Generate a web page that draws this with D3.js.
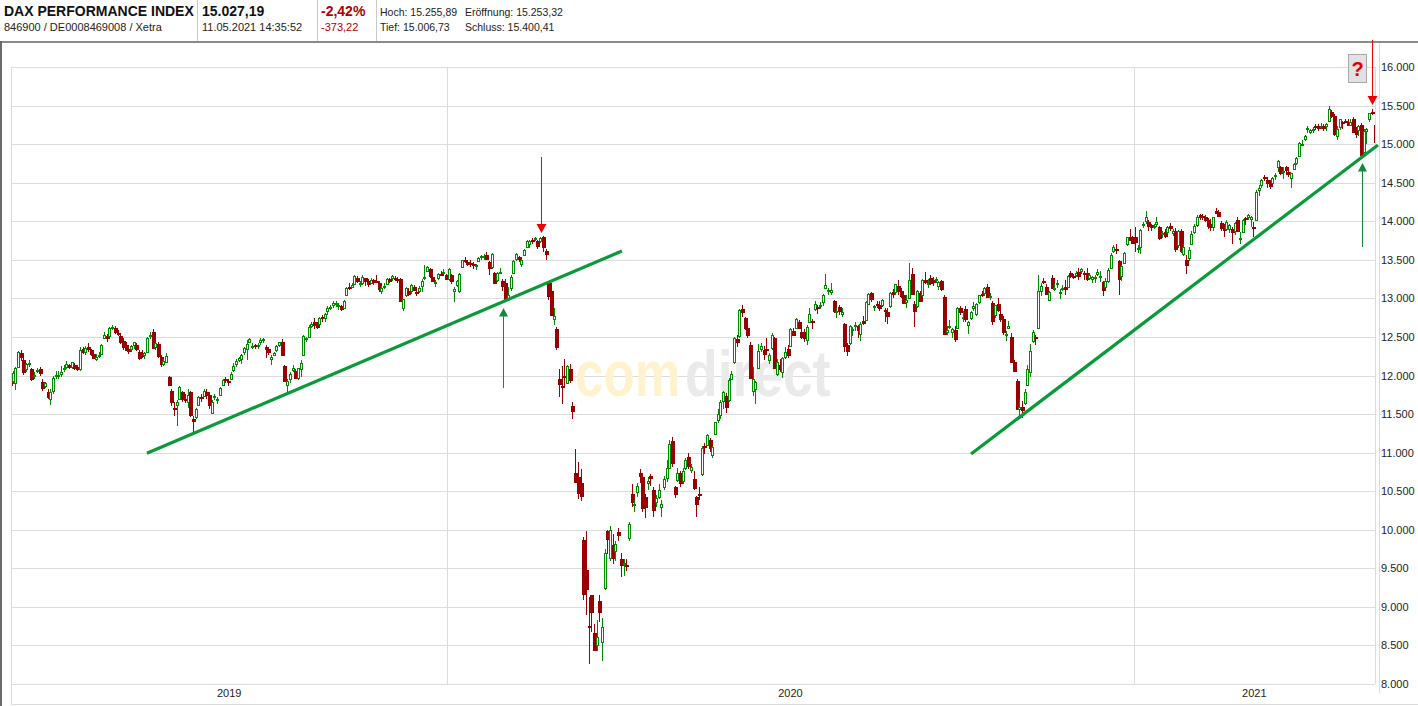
<!DOCTYPE html>
<html><head><meta charset="utf-8">
<script src="https://cdn.jsdelivr.net/npm/d3@7"></script>
<style>
html,body{margin:0;padding:0;background:#fff;}
svg{display:block;font-family:"Liberation Sans",Arial,sans-serif;}
</style></head><body>
<svg id="c" width="1418" height="706"></svg>
<script>
// Daily candles [open, high, low, close], 13.05.2019 - 11.05.2021
const ohlc2019 = [
[12000,12040,11830,11876],[11930,12060,11890,12029],[11900,12110,11810,12099],[12110,12320,12100,12310],[12290,12330,12190,12238],
[12200,12230,12010,12041],[12080,12160,12050,12143],[12150,12200,12110,12168],[12080,12100,11930,11952],[11990,12040,11960,12011],
[12060,12100,12030,12071],[12090,12110,12000,12027],[11920,11950,11800,11837],[11870,11920,11840,11902],[11790,11820,11700,11727],
[11700,11830,11620,11790],[11800,11990,11760,11971],[12000,12060,11950,12009],[12000,12060,11960,12010],[12020,12120,11980,12045],
[12080,12130,12050,12100],[12110,12190,12090,12155],[12130,12150,12080,12115],[12110,12180,12080,12169],[12140,12160,12070,12096],
[12110,12130,12060,12086],[12090,12370,12060,12332],[12340,12370,12280,12309],[12300,12380,12270,12355],[12370,12420,12310,12340],
[12330,12350,12250,12274],[12280,12320,12210,12228],[12220,12280,12190,12246],[12270,12300,12230,12271],[12280,12410,12260,12399],
[12490,12560,12470,12521],[12510,12540,12440,12487],[12510,12630,12500,12616],[12620,12650,12590,12629],[12620,12640,12540,12568],
[12550,12590,12510,12543],[12510,12530,12410,12437],[12450,12480,12330,12373],[12400,12430,12320,12332],[12340,12370,12280,12323],
[12340,12400,12310,12387],[12390,12440,12340,12430],[12400,12420,12320,12342],[12310,12330,12200,12227],[12270,12330,12230,12260],
[12260,12310,12220,12290],[12300,12500,12290,12490],[12520,12570,12470,12522],[12560,12600,12350,12362],[12370,12430,12330,12419],
[12410,12430,12230,12257],[12240,12260,12110,12147],[12150,12220,12120,12189],[12180,12290,12160,12253],[11980,12000,11860,11872],
[11800,11820,11610,11658],[11580,11650,11470,11567],[11620,11680,11350,11650],[11700,11870,11690,11845],[11780,11800,11660,11694],
[11700,11760,11640,11680],[11650,11820,11580,11750],[11790,11800,11460,11492],[11440,11470,11266,11412],[11460,11580,11440,11563],
[11620,11740,11610,11715],[11720,11760,11660,11712],[11740,11820,11720,11802],[11790,11830,11700,11747],[11750,11780,11560,11612],
[11520,11680,11500,11658],[11720,11760,11680,11730],[11680,11720,11630,11701],[11750,11850,11730,11838],[11880,11960,11870,11939],
[11960,11980,11900,11953],[11930,11950,11860,11910],[11960,12040,11950,12025],[12070,12160,12050,12127],[12150,12210,12110,12191],
[12200,12240,12170,12226],[12210,12280,12150,12268],[12300,12370,12260,12359],[12350,12460,12200,12410],[12440,12490,12420,12469],
[12370,12420,12350,12380],[12390,12410,12340,12389],[12390,12420,12340,12390],[12430,12490,12400,12457],[12460,12490,12420,12468],
[12370,12390,12230,12342],[12350,12370,12270,12307],[12220,12260,12130,12234],[12270,12310,12250,12288],[12330,12400,12310,12381],
[12400,12440,12370,12428],[12440,12470,12250,12263],[12120,12130,11920,11925],[11880,11950,11770,11925],[11950,12040,11900,12013],
[12070,12130,12050,12097],[12060,12080,11950,11970],[11970,12100,11940,12094],[12080,12200,11980,12164],[12260,12530,12250,12512],
[12470,12500,12430,12486],[12500,12660,12480,12630],[12640,12690,12620,12670],[12690,12740,12600,12654],[12650,12690,12600,12634],
[12670,12760,12650,12748],[12760,12790,12700,12754],[12740,12810,12700,12799],[12830,12900,12790,12872],[12870,12910,12850,12894],
[12920,12960,12880,12941],[12940,12960,12890,12940],[12900,12940,12850,12910],[12900,12920,12840,12867],[12880,12980,12860,12961],
[13040,13150,13030,13136],[13150,13200,13110,13148],[13150,13200,13140,13179],[13190,13300,13170,13289],[13270,13290,13200,13228],
[13180,13220,13150,13198],[13200,13300,13170,13283],[13260,13270,13160,13230],[13230,13250,13150,13180],[13200,13260,13180,13241],
[13240,13250,13170,13207],[13230,13300,13200,13221],[13200,13220,13080,13127],[13090,13160,13060,13137],[13150,13200,13120,13163],
[13190,13260,13180,13247],[13250,13270,13200,13227],[13260,13300,13230,13287],[13270,13290,13220,13245],[13250,13280,13200,13236],
[13250,13270,12950,12965],[12880,12990,12840,12989],[13040,13150,13020,13140],[13100,13130,13030,13055],[13090,13180,13060,13167],
[13150,13170,13090,13106],[13080,13110,13030,13071],[13090,13160,13070,13141],[13160,13250,13080,13222],[13280,13430,13240,13283],
[13360,13420,13340,13407],[13380,13400,13270,13287],[13280,13300,13210,13222],[13210,13240,13150,13212],[13260,13330,13240,13319],
[13320,13350,13290,13301],[13330,13380,13310,13337],[13300,13320,13240,13249]
];
const ohlc2020 = [
[13250,13400,13230,13386],[13300,13320,13180,13219],[13100,13150,12950,13127],[13170,13240,13150,13227],[13100,13330,13070,13320],
[13410,13500,13390,13495],[13500,13530,13460,13483],[13470,13480,13420,13452],[13460,13500,13410,13457],[13450,13470,13380,13432],
[13420,13440,13370,13430],[13490,13540,13470,13526],[13530,13560,13500,13548],[13530,13580,13500,13555],[13560,13600,13500,13515],
[13470,13490,13300,13388],[13410,13590,13380,13577],[13330,13340,13200,13205],[13240,13340,13210,13324],[13340,13400,13310,13345],
[13230,13250,13100,13158],[13200,13250,12950,12982],
[13000,13150,12980,13046],[13130,13300,13100,13282],[13330,13500,13320,13479],[13510,13590,13490,13575],[13540,13550,13470,13514],
[13450,13510,13410,13494],[13560,13640,13550,13627],[13660,13760,13650,13749],[13700,13760,13650,13745],[13760,13780,13700,13744],
[13770,13800,13750,13783],[13750,13760,13640,13681],[13740,13800,13720,13789],[13800,13810,13600,13664],[13620,13640,13500,13579],
[13200,13220,12980,13035],[13100,13200,12770,12790],[12730,12880,12650,12775],[12600,12630,12330,12367],[11960,12080,11720,11890],
[11870,12120,11630,11858],[12000,12220,11860,11986],[11900,12140,11890,12128],[12080,12150,11900,11944],[11600,11650,11430,11542],
[10740,11050,10600,10625],[10680,10880,10400,10475],[10600,10790,10370,10439],[9870,9900,9090,9161],[9480,9990,8890,9232],
[8750,9130,8256,8742],[9150,9160,8670,8939],[8660,8780,8440,8442],[8500,8830,8430,8610],[9080,9150,8800,8929],
[8550,8850,8300,8741],[9250,9750,9220,9701],[9990,10000,9690,9874],[9630,10050,9600,10000],[9800,9950,9550,9633],
[9730,9850,9600,9816],[9970,10020,9850,9936],
[9620,9700,9390,9544],[9560,9620,9400,9571],[9540,9620,9470,9525],[9890,10100,9850,10075],[10470,10590,10300,10356],
[10320,10380,10230,10333],[10490,10600,10430,10565],[10740,10790,10600,10697],[10690,10700,10230,10280],[10420,10460,10150,10301],
[10600,10680,10520,10626],[10700,10720,10570,10676],[10520,10550,10160,10250],[10360,10450,10300,10415],[10430,10590,10400,10514],
[10300,10380,10170,10336],[10550,10700,10510,10659],[10665,10910,10620,10795],[10800,11160,10790,11108],[11150,11200,10810,10862],
[10555,10570,10410,10467],[10640,10800,10620,10730],[10730,10760,10550,10607],[10630,10800,10590,10759],[10800,10930,10770,10904],
[10940,10990,10790,10825],[10780,10850,10730,10820],[10660,10760,10520,10542],[10420,10440,10160,10338],[10470,10560,10390,10465],
[10720,11090,10700,11058],[11080,11120,10980,11075],[11100,11240,11080,11223],[11160,11190,11010,11065],[10970,11090,10930,11074],
[11240,11400,11230,11391],[11420,11560,11390,11505],[11490,11680,11430,11657],[11670,11800,11560,11781],[11740,11770,11510,11587],
[11680,11970,11660,11945],[11960,12060,11940,12022],[12170,12500,12150,12487],[12470,12520,12370,12431],[12510,12860,12480,12848],
[12860,12910,12760,12820],[12740,12760,12590,12617],[12620,12690,12490,12530],[12400,12430,11950,11970],[11800,12110,11740,11949],
[11820,11930,11630,11911],[12100,12410,12080,12315],[12340,12420,12310,12382],[12330,12380,12200,12281],[12340,12490,12290,12331],
[12200,12290,12150,12262],[12360,12550,12330,12523],[12480,12500,12080,12093],[12020,12210,11990,12177],[12140,12220,12050,12089],
[12040,12240,11970,12232],[12240,12370,12210,12311],
[12340,12400,12230,12261],[12380,12620,12370,12608],[12580,12620,12510,12528],[12620,12740,12610,12734],[12690,12720,12600,12616],
[12570,12630,12470,12495],[12560,12600,12440,12489],[12460,12650,12400,12633],[12700,12880,12690,12800],[12710,12730,12600,12697],
[12860,12970,12840,12931],[12890,12920,12800,12874],[12900,12950,12860,12920],[12950,13060,12900,13046],[13140,13310,13140,13171],
[13100,13140,13040,13104],[13080,13200,13050,13103],[12960,12980,12810,12838],[12820,12880,12750,12839],[12890,12920,12790,12835],
[12800,12880,12760,12822],[12670,12680,12310,12379],[12400,12420,12250,12313],
[12420,12660,12400,12647],[12600,12630,12510,12600],[12640,12690,12580,12661],[12640,12660,12480,12591],[12540,12690,12450,12674],
[12710,12770,12660,12687],[12720,12960,12710,12947],[12930,13070,12910,13058],[13070,13080,12950,12993],[12900,12920,12840,12901],
[12930,12960,12880,12920],[12920,12960,12840,12881],[12910,12990,12890,12977],[12850,12870,12700,12830],[12820,12880,12670,12765],
[12900,13080,12880,13066],[13080,13120,13010,13062],[13080,13190,13040,13190],[13160,13240,13050,13096],[13100,13140,13000,13033],
[13040,13070,12940,12945],
[12950,13040,12880,12974],[13010,13460,13000,13243],[13310,13390,13050,13057],[12930,12970,12630,12842],[12900,13110,12880,13100],
[13070,13100,12950,12968],[13050,13250,13020,13238],[13240,13340,13180,13209],[13180,13250,13140,13203],[13260,13300,13170,13194],
[13240,13280,13160,13218],[13240,13280,13200,13255],[13160,13220,13110,13208],[13230,13240,13100,13116],[13020,13040,12540,12542],
[12560,12640,12520,12594],[12640,12720,12600,12643],[12560,12620,12480,12606],[12590,12640,12440,12469],[12620,12890,12600,12871],
[12880,12900,12780,12825],[12760,12840,12700,12761],
[12860,12900,12700,12731],[12650,12710,12540,12689],[12740,12830,12720,12828],[12880,12950,12830,12906],[12800,12940,12770,12928],
[12950,13050,12930,13042],[13060,13100,13020,13051],[13070,13150,13030,13138],[13150,13190,13000,13018],[13020,13070,12980,13028],
[12940,12960,12650,12703],[12780,12920,12740,12909],[12930,13000,12820,12854],[12800,12840,12690,12736],[12730,12770,12520,12558],
[12520,12580,12450,12543],[12610,12710,12600,12646],[12500,12550,12170,12178],[12180,12200,12060,12064],[11930,11960,11550,11561],
[11570,11700,11450,11598],[11590,11670,11450,11556],
[11640,11830,11620,11789],[11880,12130,11860,12089],[12050,12410,11980,12324],[12450,12590,12420,12568],[12500,12520,12400,12480],
[12620,13300,12600,13096],[13100,13200,13030,13163],[13220,13260,13180,13217],[13150,13180,13040,13053],[12980,13090,12960,13077],
[13260,13300,13130,13139],[13120,13180,13090,13134],[13180,13240,13130,13201],[13070,13120,12990,13087],[13130,13170,13100,13137],
[13150,13240,13050,13127],[13150,13300,13140,13292],[13330,13350,13260,13290],[13290,13310,13250,13286],[13300,13350,13280,13335],
[13340,13400,13240,13291],
[13360,13390,13310,13382],[13330,13360,13240,13313],[13330,13390,13230,13252],[13270,13320,13240,13299],[13250,13290,13200,13271],
[13260,13300,13200,13278],[13320,13380,13290,13340],[13290,13350,13210,13296],[13210,13220,13030,13114],[13150,13260,13140,13223],
[13230,13390,13200,13362],[13400,13590,13390,13566],[13610,13690,13590,13667],[13640,13700,13580,13630],[13480,13500,13050,13246],
[13290,13430,13230,13418],[13460,13600,13450,13587],[13700,13800,13680,13790],[13800,13900,13750,13761],[13790,13810,13700,13719]
];
const ohlc2021 = [
[13790,13920,13600,13727],[13640,13690,13590,13651],[13670,13900,13580,13892],[13950,13990,13910,13968],[14000,14130,13960,14050],
[13990,14010,13870,13937],[13950,13970,13870,13926],[13940,13970,13900,13940],[13960,14050,13930,13989],[13930,13940,13760,13788],
[13830,13870,13780,13848],[13860,13900,13780,13815],[13860,13940,13840,13922],[13940,13980,13880,13907],[13850,13900,13810,13874],
[13880,13910,13600,13643],[13690,13890,13650,13871],[13880,13900,13590,13620],[13570,13700,13550,13666],[13500,13560,13310,13433],
[13520,13660,13490,13622],[13700,13870,13690,13835],[13860,13960,13830,13933],[13950,14080,13930,14060],[14080,14100,14010,14057],
[14070,14090,14020,14059],[14060,14080,13990,14011],[14020,14040,13900,13933],[13970,14030,13880,13921],[13930,14060,13880,14050],
[14130,14170,14090,14109],[14120,14140,14050,14064],[13980,14000,13870,13909],[13920,13970,13800,13887],[13900,14020,13880,13993],
[13900,13960,13850,13950],[13900,13920,13700,13865],[13870,13990,13820,13976],[14020,14060,13870,13879],[13780,13860,13700,13786],
[13860,14030,13860,14012],[14040,14060,13950,14039],[14060,14100,14020,14080],[14030,14070,13920,14056],[13930,13990,13800,13920],
[14010,14400,14000,14380],[14400,14470,14330,14437],[14470,14550,14430,14540],[14580,14600,14520,14569],[14540,14570,14430,14502],
[14490,14530,14420,14461],[14500,14580,14480,14557],[14590,14620,14530,14596],[14700,14800,14640,14776],[14700,14710,14600,14621],
[14640,14700,14550,14657],[14700,14720,14600,14662],[14640,14680,14580,14610],[14560,14630,14430,14621],[14680,14760,14660,14748],
[14760,14830,14730,14818],[14850,15030,14840,15009],[15000,15050,14970,15008],
[15070,15120,15040,15107],[15200,15230,15140,15212],[15160,15200,15130,15177],[15200,15220,15150,15202],[15240,15260,15180,15234],
[15240,15260,15170,15215],[15220,15270,15190,15234],[15240,15260,15170,15209],[15230,15270,15170,15255],[15300,15500,15300,15460],
[15420,15440,15340,15368],[15360,15390,15110,15130],[15100,15240,15050,15196],[15220,15330,15180,15320],[15290,15300,15200,15280],
[15300,15330,15270,15296],[15280,15330,15230,15249],[15250,15320,15230,15292],[15320,15350,15150,15155],[15200,15220,15080,15136],
[15180,15250,15100,15236],[15250,15270,14820,14856],[14900,15190,14880,15171],[15170,15210,15000,15197],[15330,15410,15290,15400],
[15420,15460,15380,15400],[15253,15256,15007,15027]
];
const yTicks = [8000,8500,9000,9500,10000,10500,11000,11500,12000,12500,13000,13500,14000,14500,15000,15500,16000];
const yearLabels = ["2019","2020","2021"];
// trend lines: [startIndex, startValue, endIndex, endValue]
const trendLines = [[50.9,10991,227.4,13614],[357.1,10982,508.3,14989]];
// arrows: [index, tipValue, tailValue]
const arrowsDown = [[197.3,13848,14833],[506.1,15507,16350]];
const arrowsUp = [[183.3,12875,11838],[502.3,14755,13666]];
const watermark = ["com", "direct"];
const header = {
  title:"DAX PERFORMANCE INDEX", ident:"846900 / DE0008469008 / Xetra",
  last:"15.027,19", time:"11.05.2021 14:35:52", pct:"-2,42%", chg:"-373,22",
  hoch:"Hoch: 15.255,89", eroeff:"Eröffnung: 15.253,32", tief:"Tief: 15.006,73", schluss:"Schluss: 15.400,41"
};

const data = ohlc2019.concat(ohlc2020, ohlc2021);
const N = data.length;
const i2020 = ohlc2019.length, i2021 = ohlc2019.length + ohlc2020.length;

const svg = d3.select("#c");
const L = 11, R = 1375, T = 67, B = 684;
const x = d3.scaleLinear().domain([0, N-1]).range([9.9, 1374.5]);
const y = d3.scaleLinear().domain([8000, 16000]).range([B, T]);
const loc = d3.formatLocale({decimal:",", thousands:".", grouping:[3], currency:["","€"]});
const fmt = loc.format(",.0f");

// header
const h = svg.append("g");
h.append("text").attr("x",4).attr("y",16).attr("font-size",14).attr("font-weight","bold").attr("fill","#111").text(header.title);
h.append("text").attr("x",4).attr("y",31).attr("font-size",11).attr("fill","#222").text(header.ident);
h.append("text").attr("x",202).attr("y",16).attr("font-size",14).attr("font-weight","bold").attr("fill","#111").text(header.last);
h.append("text").attr("x",202).attr("y",31).attr("font-size",11).attr("fill","#222").text(header.time);
h.append("text").attr("x",321).attr("y",16).attr("font-size",14).attr("font-weight","bold").attr("fill","#b00000").text(header.pct);
h.append("text").attr("x",321).attr("y",31).attr("font-size",11).attr("fill","#b00000").text(header.chg);
h.append("text").attr("x",380).attr("y",16).attr("font-size",10.5).attr("fill","#222").text(header.hoch);
h.append("text").attr("x",465).attr("y",16).attr("font-size",10.5).attr("fill","#222").text(header.eroeff);
h.append("text").attr("x",380).attr("y",31).attr("font-size",10.5).attr("fill","#222").text(header.tief);
h.append("text").attr("x",465).attr("y",31).attr("font-size",10.5).attr("fill","#222").text(header.schluss);
[197,317,376].forEach(sx => h.append("line").attr("x1",sx+0.5).attr("x2",sx+0.5).attr("y1",0).attr("y2",41).attr("stroke","#c8c8c8"));
h.append("rect").attr("x",0).attr("y",41).attr("width",1418).attr("height",2).attr("fill","#8a8a8a");
h.append("rect").attr("x",0).attr("y",41).attr("width",2).attr("height",665).attr("fill","#6a6a6a");

// grid
const g = svg.append("g").attr("shape-rendering","crispEdges");
g.selectAll("line.h").data(yTicks).join("line").attr("class","h")
  .attr("x1",L).attr("x2",R).attr("y1",d=>Math.round(y(d))+0.5).attr("y2",d=>Math.round(y(d))+0.5)
  .attr("stroke","#dcdcdc");
[i2020, i2021].forEach(i => {
  const gx = Math.round(x(i-0.5))+0.5;
  g.append("line").attr("x1",gx).attr("x2",gx).attr("y1",T).attr("y2",B).attr("stroke","#dcdcdc");
});
g.append("line").attr("x1",L+0.5).attr("x2",L+0.5).attr("y1",T).attr("y2",704).attr("stroke","#dcdcdc");
g.append("line").attr("x1",R+0.5).attr("x2",R+0.5).attr("y1",T).attr("y2",B).attr("stroke","#dcdcdc");
g.append("line").attr("x1",1379.5).attr("x2",1379.5).attr("y1",43).attr("y2",693).attr("stroke","#dcdcdc");
g.append("line").attr("x1",L).attr("x2",1418).attr("y1",704.5).attr("y2",704.5).attr("stroke","#dcdcdc");

// y labels
svg.append("g").selectAll("text").data(yTicks).join("text")
  .attr("x",1381).attr("y",d=>y(d)+4).attr("font-size",11).attr("fill","#222").text(d=>fmt(d));

// year labels
const bounds = [0, i2020, i2021, N];
yearLabels.forEach((lab, k) => {
  const a = Math.max(L, x(bounds[k]-0.5)), b = Math.min(R, x(bounds[k+1]-0.5));
  svg.append("text").attr("x",(a+b)/2).attr("y",697).attr("text-anchor","middle").attr("font-size",11).attr("fill","#222").text(lab);
});

// watermark (two words side by side, horizontally condensed)
svg.append("text").attr("transform","translate(575,396) scale(0.8,1)").attr("font-size",64).attr("font-weight","bold")
  .attr("fill","#fff3cf").text(watermark[0]);
svg.append("text").attr("transform","translate(685,396) scale(0.835,1)").attr("font-size",64).attr("font-weight","bold")
  .attr("fill","#eaeaea").text(watermark[1]);

// candles
svg.append("clipPath").attr("id","pc").append("rect").attr("x",L+1).attr("y",T).attr("width",R-L-1).attr("height",B-T);
const cg = svg.append("g").attr("clip-path","url(#pc)").attr("shape-rendering","crispEdges");
data.forEach((d, i) => {
  const [o, hi, lo, c] = d;
  const cx = Math.round(x(i));
  const up = c >= o;
  const col = up ? "#008a00" : "#990000";
  const top = Math.round(y(Math.max(o, c))), bot = Math.round(y(Math.min(o, c)));
  const yh = Math.round(y(hi)), yl = Math.round(y(lo));
  if (up) {
    cg.append("line").attr("x1",cx+0.5).attr("x2",cx+0.5).attr("y1",yh).attr("y2",top).attr("stroke",col);
    cg.append("line").attr("x1",cx+0.5).attr("x2",cx+0.5).attr("y1",bot+1).attr("y2",yl).attr("stroke",col);
    cg.append("rect").attr("x",cx-0.5).attr("y",top+0.5).attr("width",2).attr("height",Math.max(1,bot-top))
      .attr("fill","#fff").attr("stroke",col).attr("stroke-width",1.4);
  } else {
    cg.append("line").attr("x1",cx+0.5).attr("x2",cx+0.5).attr("y1",yh).attr("y2",yl).attr("stroke",col);
    cg.append("rect").attr("x",cx-1).attr("y",top).attr("width",4).attr("height",Math.max(2,bot-top+1)).attr("fill",col);
  }
});

// trend lines
svg.append("g").selectAll("line").data(trendLines).join("line")
  .attr("x1",d=>x(d[0])).attr("y1",d=>y(d[1])).attr("x2",d=>x(d[2])).attr("y2",d=>y(d[3]))
  .attr("stroke","#0a9a3a").attr("stroke-width",3.2);

// arrows
const ag = svg.append("g");
arrowsDown.forEach(([i, tip, tail]) => {
  const ax = Math.round(x(i)) + 0.5, yt = y(tip), ytl = y(tail);
  ag.append("line").attr("x1",ax).attr("x2",ax).attr("y1",ytl).attr("y2",yt-8).attr("stroke","#ee0000").attr("stroke-width",1);
  ag.append("path").attr("d",`M${ax-5},${yt-9}L${ax+5},${yt-9}L${ax},${yt}Z`).attr("fill","#ee0000");
});
arrowsUp.forEach(([i, tip, tail]) => {
  const ax = Math.round(x(i)) + 0.5, yt = y(tip), ytl = y(tail);
  ag.append("line").attr("x1",ax).attr("x2",ax).attr("y1",yt+8).attr("y2",ytl).attr("stroke","#138a3a").attr("stroke-width",1);
  ag.append("path").attr("d",`M${ax-4.5},${yt+8.5}L${ax+4.5},${yt+8.5}L${ax},${yt}Z`).attr("fill","#138a3a");
});
// question box
ag.append("rect").attr("x",1348.5).attr("y",54.5).attr("width",18).attr("height",28).attr("fill","#e2e2e2").attr("stroke","#a8a8a8");
ag.append("text").attr("x",1357.5).attr("y",76).attr("text-anchor","middle").attr("font-size",20).attr("font-weight","bold").attr("fill","#e00000").text("?");
</script>
</body></html>
